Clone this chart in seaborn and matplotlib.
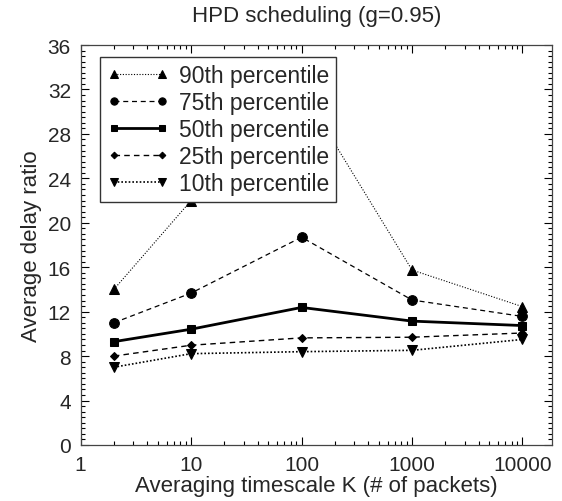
import matplotlib
matplotlib.use("Agg")
import matplotlib.pyplot as plt
import seaborn as sns
import pandas as pd
import numpy as np
from matplotlib.ticker import MultipleLocator, LogLocator, FixedLocator

# Data
timescale_k = [2, 10, 100, 1000, 10000]
p90 = [14.0, 22.0, 32.0, 15.75, 12.45]
p75 = [11.0, 13.67, 18.7, 13.05, 11.57]
p50 = [9.3, 10.42, 12.38, 11.15, 10.75]
p25 = [8.0, 8.98, 9.64, 9.70, 10.08]
p10 = [7.0, 8.22, 8.40, 8.52, 9.50]
series_names = ["90th percentile", "75th percentile", "50th percentile",
                "25th percentile", "10th percentile"]
x_ticks = [1, 10, 100, 1000, 10000]
y_ticks = [0, 4, 8, 12, 16, 20, 24, 28, 32, 36]

sns.set_style("ticks")
plt.rcParams['font.family'] = ['Liberation Sans', 'DejaVu Sans']

fig = plt.figure(figsize=(5.62, 5.02), dpi=100)
ax = fig.add_axes([80.6 / 562, 1 - 446 / 502, (552 - 80.6) / 562, 400 / 502])

styles = [
    dict(marker="^", linestyle=(0, (1, 1.5)), linewidth=0.8, markersize=7),
    dict(marker="o", linestyle=(0, (4, 3)), linewidth=0.9, markersize=7),
    dict(marker="s", linestyle="-", linewidth=2.0, markersize=6),
    dict(marker="D", linestyle=(0, (4, 3)), linewidth=1.0, markersize=4.5),
    dict(marker="v", linestyle=(0, (1, 1.2)), linewidth=1.2, markersize=7),
]
all_vals = [p90, p75, p50, p25, p10]
for name, vals, st in zip(series_names, all_vals, styles):
    df = pd.DataFrame({"K": timescale_k, "ratio": vals})
    sns.lineplot(data=df, x="K", y="ratio", ax=ax, color="black",
                 marker=st["marker"], markersize=st["markersize"],
                 linestyle=st["linestyle"], linewidth=st["linewidth"],
                 markeredgecolor="black", markerfacecolor="black",
                 label=name)

ax.set_xscale("log")
ax.set_xlim(1, 18500)
ax.set_ylim(0, 36)
ax.xaxis.set_major_locator(FixedLocator(x_ticks))
ax.set_xticklabels([str(t) for t in x_ticks])
ax.xaxis.set_minor_locator(LogLocator(base=10, subs=np.arange(2, 10), numticks=20))
ax.xaxis.set_minor_formatter(matplotlib.ticker.NullFormatter())
ax.yaxis.set_major_locator(FixedLocator(y_ticks))
ax.yaxis.set_minor_locator(MultipleLocator(0.5))

ax.tick_params(which="both", direction="in", top=True, right=True,
               color="black", width=0.8)
ax.tick_params(which="major", length=6, labelsize=15, pad=7)
ax.tick_params(which="minor", length=3)
for sp in ax.spines.values():
    sp.set_color("#444444")
    sp.set_linewidth(0.9)

ax.set_xlabel("Averaging timescale K (# of packets)", fontsize=16, labelpad=1)
ax.set_ylabel("Average delay ratio", fontsize=16, labelpad=4)
ax.set_title("HPD scheduling (g=0.95)", fontsize=16, pad=17)

leg = ax.legend(loc="upper left", bbox_to_anchor=(0.041, 0.97), fontsize=16.5,
                frameon=True, fancybox=False, edgecolor="#333333",
                framealpha=1, numpoints=2, handlelength=2.7, markerscale=0.75,
                labelspacing=0.18, borderpad=0.3, handletextpad=0.45,
                borderaxespad=0)
leg.get_frame().set_linewidth(1.0)

fig.savefig("out.png", dpi=100)
